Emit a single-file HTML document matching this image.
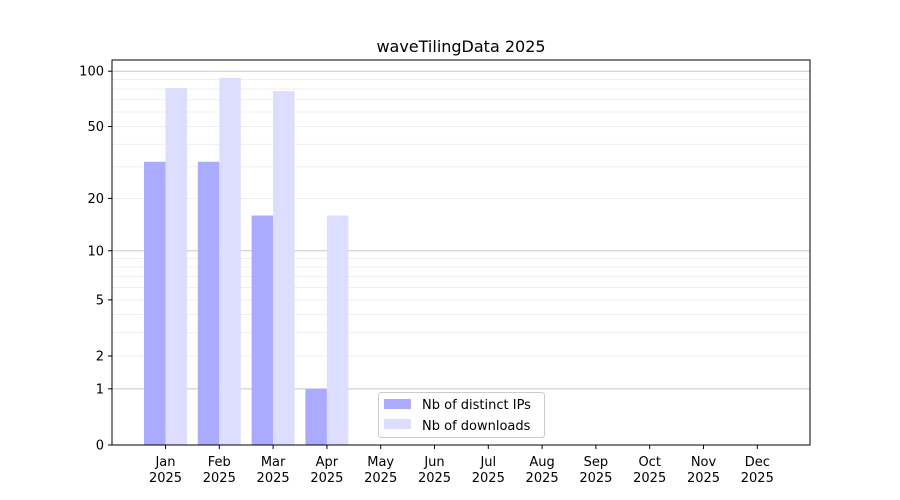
<!DOCTYPE html>
<html><head><meta charset="utf-8"><style>
html,body{margin:0;padding:0;background:#fff;}
svg{display:block;font-family:"DejaVu Sans","Liberation Sans",sans-serif;}
</style></head><body>
<svg id="s" width="900" height="500" xmlns="http://www.w3.org/2000/svg">
<rect width="900" height="500" fill="#fff"/>
<g id="grid"></g>
<g id="bars"></g>
<rect x="112" y="60" width="698" height="385" fill="none" stroke="#000" stroke-width="1"/>
<g id="ticks" font-size="13" fill="#000"></g>
<text x="461" y="52" font-size="16" text-anchor="middle">waveTilingData 2025</text>
<g>
<rect x="378.5" y="392.5" width="166" height="45" rx="3" fill="#fff" fill-opacity="0.8" stroke="#ccc"/>
<rect x="384" y="399" width="27" height="10" fill="#aaaaff"/>
<text x="422" y="409" font-size="13">Nb of distinct IPs</text>
<rect x="384" y="419" width="27" height="10" fill="#ddddff"/>
<text x="422" y="430" font-size="13">Nb of downloads</text>
</g>
</svg>
<script>
const NS="http://www.w3.org/2000/svg";
function Y(v){return 445-186.5*Math.log10(1+v);}
function el(p,t,a,txt){const e=document.createElementNS(NS,t);for(const k in a)e.setAttribute(k,a[k]);if(txt!==undefined)e.textContent=txt;p.appendChild(e);return e;}
const g=document.getElementById('grid');
[2,3,4,5,6,7,8,9,20,30,40,50,60,70,80,90].forEach(v=>{const y=Y(v);el(g,'line',{x1:112,x2:810,y1:y,y2:y,stroke:'#ebebeb','stroke-width':0.8});});
[1,10,100].forEach(v=>{const y=Y(v);el(g,'line',{x1:112,x2:810,y1:y,y2:y,stroke:'#c8c8c8','stroke-width':1});});
const b=document.getElementById('bars');
const ips=[32,32,16,1],dl=[81,92,78,16];
const x0=165.5,dx=53.8,w=21.5;
for(let i=0;i<4;i++){
 const c=x0+i*dx;
 el(b,'rect',{x:c-w,y:Y(ips[i]),width:w,height:445-Y(ips[i]),fill:'#aaaaff'});
 el(b,'rect',{x:c,y:Y(dl[i]),width:w,height:445-Y(dl[i]),fill:'#ddddff'});
}
const t=document.getElementById('ticks');
[0,1,2,5,10,20,50,100].forEach(v=>{const y=Y(v);el(t,'line',{x1:108,x2:112,y1:y,y2:y,stroke:'#000'});el(t,'text',{x:104,y:y+4.5,'text-anchor':'end'},String(v));});
const m=['Jan','Feb','Mar','Apr','May','Jun','Jul','Aug','Sep','Oct','Nov','Dec'];
m.forEach((n,i)=>{const x=x0+i*dx;el(t,'line',{x1:x,x2:x,y1:445,y2:449,stroke:'#000'});el(t,'text',{x:x,y:466,'text-anchor':'middle'},n);el(t,'text',{x:x,y:482,'text-anchor':'middle'},'2025');});
</script>
</body></html>
